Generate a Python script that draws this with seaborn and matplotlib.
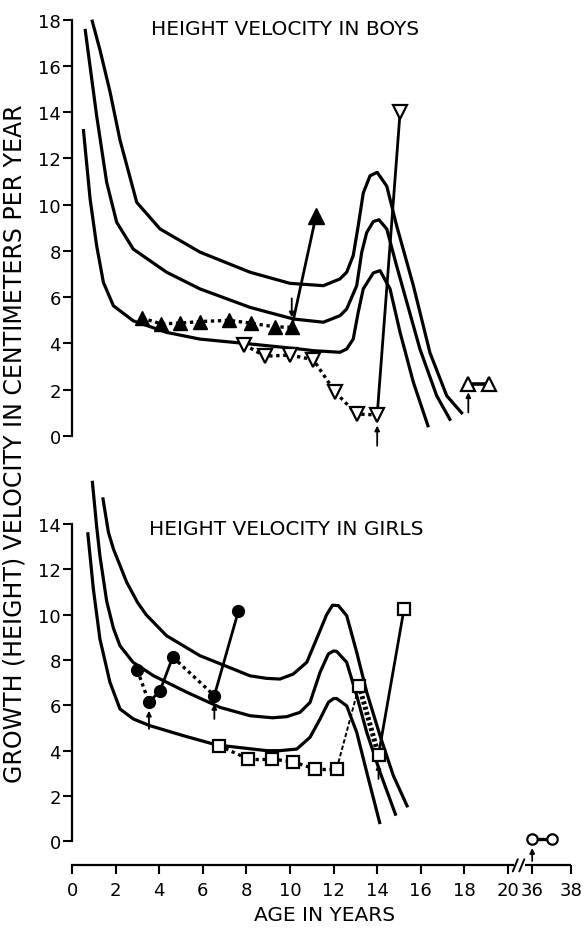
import numpy as np
import matplotlib
matplotlib.use("Agg")
import matplotlib.pyplot as plt
import seaborn as sns
from matplotlib.transforms import blended_transform_factory

sns.set_style("ticks")
plt.rcParams["font.family"] = ["DejaVu Sans"]
plt.rcParams["text.color"] = "black"
plt.rcParams["axes.edgecolor"] = "black"

# ---------------- Boys: reference percentile curves ----------------
boys_hi_age = [0.91, 1.28, 1.74, 2.2, 2.97, 4.04, 5.87, 8.17, 10.0, 11.53, 12.29, 12.6,
               12.9, 13.13, 13.36, 13.67, 14.0, 14.44, 14.89, 15.66, 16.42, 17.19, 17.92]
boys_hi_vel = [18.0, 16.7, 14.9, 12.8, 10.1, 8.95, 7.95, 7.08, 6.6, 6.5, 6.79, 7.08,
               7.8, 9.09, 10.5, 11.25, 11.4, 10.8, 9.1, 6.5, 3.6, 1.74, 0.95]
boys_mid_age = [0.6, 1.13, 1.59, 2.05, 2.81, 4.34, 5.87, 8.17, 10.15, 11.53, 12.29, 12.6,
                13.06, 13.29, 13.52, 13.82, 14.08, 14.44, 14.89, 15.96, 16.73, 17.37]
boys_mid_vel = [17.6, 13.85, 10.97, 9.24, 8.08, 7.08, 6.36, 5.56, 5.06, 4.92, 5.2, 5.49,
                6.5, 7.94, 8.8, 9.27, 9.35, 8.95, 7.36, 3.76, 1.74, 0.66]
boys_lo_age = [0.52, 0.83, 1.13, 1.44, 1.9, 2.81, 4.34, 5.87, 8.17, 10.46, 11.07, 12.29,
               12.6, 12.9, 13.13, 13.36, 13.82, 14.13, 14.59, 15.05, 15.66, 16.35]
boys_lo_vel = [13.27, 10.25, 8.23, 6.64, 5.63, 4.98, 4.48, 4.19, 3.98, 3.76, 3.69, 3.62,
               3.76, 4.19, 5.35, 6.36, 7.05, 7.15, 6.36, 4.48, 2.32, 0.38]

# ---------------- Boys: patient measurements ----------------
boy1_age = [3.2, 4.1, 4.96, 5.87, 7.22, 8.2, 9.3, 10.08]
boy1_vel = [5.1, 4.85, 4.88, 4.95, 5.0, 4.88, 4.72, 4.7]
boy1_treated_age = [10.08, 11.19]
boy1_treated_vel = [4.7, 9.5]

boy2_age = [7.9, 8.85, 10.0, 11.07, 12.07, 13.06, 14.0]
boy2_vel = [3.95, 3.45, 3.5, 3.3, 1.9, 0.95, 0.91]
boy2_treated_age = [14.0, 15.05]
boy2_treated_vel = [0.91, 14.0]

boy_adult_age = [18.18, 19.14]
boy_adult_vel = [2.25, 2.25]

# treatment start markers: (age, tail velocity, head velocity)
boys_arrows = [(10.08, 5.95, 5.13), (14.0, -0.42, 0.45), (18.18, 1.02, 1.89)]

# ---------------- Girls: reference percentile curves ----------------
girls_hi_age = [1.41, 1.67, 1.9, 2.51, 3.0, 3.4, 4.34, 5.87, 7.4, 8.17, 8.93, 9.54, 10.15,
                10.77, 11.22, 11.68, 11.95, 12.22, 12.6, 13.06, 13.52, 14.13, 14.74, 15.4]
girls_hi_vel = [15.18, 13.64, 12.9, 11.43, 10.55, 10.0, 9.07, 8.19, 7.6, 7.3, 7.19, 7.16, 7.38,
                7.9, 8.93, 10.0, 10.42, 10.4, 9.96, 8.34, 6.58, 4.66, 2.9, 1.5]
girls_mid_age = [0.93, 1.13, 1.28, 1.59, 1.9, 2.2, 2.8, 3.73, 5.26, 6.79, 8.17, 9.2, 9.85,
                 10.46, 10.92, 11.38, 11.76, 12.0, 12.14, 12.6, 13.06, 13.52, 14.13, 14.86]
girls_mid_vel = [15.91, 13.9, 12.6, 10.6, 9.4, 8.63, 7.9, 7.31, 6.58, 5.91, 5.54, 5.45, 5.5,
                 5.69, 6.13, 7.46, 8.27, 8.4, 8.38, 7.9, 6.43, 4.81, 3.05, 1.13]
girls_lo_age = [0.72, 0.98, 1.28, 1.74, 2.2, 2.81, 3.58, 5.11, 6.64, 8.93, 9.54, 10.31,
                10.92, 11.38, 11.76, 12.0, 12.14, 12.6, 13.06, 13.52, 14.13]
girls_lo_vel = [13.64, 11.13, 8.93, 7.02, 5.84, 5.4, 5.1, 4.66, 4.25, 4.0, 4.0, 4.07,
                4.59, 5.4, 6.13, 6.3, 6.3, 5.98, 4.81, 3.05, 0.76]

# ---------------- Girls: patient measurements ----------------
girl1_age = [3.0, 3.53, 4.04, 4.62, 6.53, 7.63]
girl1_vel = [7.55, 6.13, 6.65, 8.13, 6.43, 10.15]
girl1_styles = ["dotted", "solid", "solid", "dotted", "solid"]

girl2_age = [6.74, 8.09, 9.16, 10.12, 11.15, 12.14, 13.17, 14.06, 15.23]
girl2_vel = [4.22, 3.63, 3.63, 3.51, 3.19, 3.19, 6.87, 3.81, 10.25]
girl2_styles = ["dotted", "dotted", "dotted", "dotted", "dotted", "dashed", "heavy", "solid"]

girl_adult_age = [36, 37]
girl_adult_vel = [0.1, 0.1]

girls_arrows = [(3.53, 4.96, 5.76), (6.53, 5.4, 6.06), (14.06, 2.75, 3.41), (36, -0.87, -0.3)]

# ---------------- axis labels ----------------
xtick_ages = [0, 2, 4, 6, 8, 10, 12, 14, 16, 18, 20, 36, 38]
boys_yticks = list(range(0, 19, 2))
girls_yticks = list(range(0, 15, 2))

# broken age axis: ages past the break are squeezed in after 21 years
BREAK_FROM, BREAK_TO, BREAK_POS, BREAK_SCALE = 21.0, 36.0, 21.11, 0.89


def age_axis(a):
    a = np.asarray(a, dtype=float)
    return np.where(a <= BREAK_FROM, a, BREAK_POS + (a - BREAK_TO) * BREAK_SCALE)


CURVE_LW = 2.3
STYLES = {
    "solid": dict(linestyle="-", lw=2.0),
    "dotted": dict(linestyle=(0, (1.0, 1.1)), lw=2.4),
    "dashed": dict(linestyle=(0, (2.2, 1.2)), lw=1.4),
    "heavy": dict(linestyle=(0, (0.6, 0.5)), lw=3.6),
}

W, H = 585, 929
fig = plt.figure(figsize=(W / 100, H / 100), dpi=100)
ax_b = fig.add_axes([72 / W, 1 - 450.9 / H, 500.3 / W, (450.9 - 13.7) / H])
ax_g = fig.add_axes([72 / W, 1 - 866.3 / H, 500.3 / W, (866.3 - 475.2) / H])

for ax in (ax_b, ax_g):
    ax.set_xlim(0, 22.95)
    ax.spines["top"].set_visible(False)
    ax.spines["right"].set_visible(False)
    ax.spines["left"].set_linewidth(1.6)
    ax.spines["bottom"].set_linewidth(1.6)
    ax.tick_params(axis="both", labelsize=13, length=6.5, width=1.5, color="black",
                   labelcolor="black")
    ax.tick_params(axis="y", pad=1.5)
    ax.set_xlabel("")
    ax.set_ylabel("")


def curve(ax, ages, vels):
    sns.lineplot(x=age_axis(ages), y=vels, ax=ax, color="black", lw=CURVE_LW,
                 sort=False, estimator=None, solid_capstyle="butt", solid_joinstyle="round")


def arrow(ax, age, tail, head):
    x = float(age_axis(age))
    ax.annotate("", xy=(x, head), xytext=(x, tail),
                arrowprops=dict(arrowstyle="-|>", color="black", lw=1.3,
                                mutation_scale=7, shrinkA=0, shrinkB=0),
                annotation_clip=False)


# ---------- boys panel ----------
for a, v in [(boys_hi_age, boys_hi_vel), (boys_mid_age, boys_mid_vel), (boys_lo_age, boys_lo_vel)]:
    curve(ax_b, a, v)

ax_b.plot(boy1_age, boy1_vel, color="black", **STYLES["dotted"], zorder=3)
ax_b.plot(boy1_treated_age, boy1_treated_vel, color="black", **STYLES["solid"], zorder=3)
ax_b.plot(boy1_age, boy1_vel, "^", color="black", ms=10, zorder=4)
ax_b.plot(boy1_treated_age[-1:], boy1_treated_vel[-1:], "^", color="black", ms=11, zorder=4)

ax_b.plot(boy2_age, boy2_vel, color="black", **STYLES["dotted"], zorder=3)
ax_b.plot(boy2_treated_age, boy2_treated_vel, color="black", **STYLES["solid"], zorder=3)
ax_b.plot(boy2_age + boy2_treated_age[-1:], boy2_vel + boy2_treated_vel[-1:], "v",
          mfc="white", mec="black", mew=1.6, ms=10, ls="none", zorder=4)

ax_b.plot(boy_adult_age, boy_adult_vel, color="black", lw=2.6, zorder=3)
ax_b.plot(boy_adult_age, boy_adult_vel, "^", mfc="white", mec="black", mew=1.6, ms=10,
          ls="none", zorder=4)

for a, t, h in boys_arrows:
    arrow(ax_b, a, t, h)

ax_b.set_ylim(-0.6, 18.3)
ax_b.spines["left"].set_bounds(0, 18)
ax_b.spines["bottom"].set_visible(False)
ax_b.set_yticks(boys_yticks)
ax_b.set_xticks([])

# ---------- girls panel ----------
for a, v in [(girls_hi_age, girls_hi_vel), (girls_mid_age, girls_mid_vel), (girls_lo_age, girls_lo_vel)]:
    curve(ax_g, a, v)

for i, st in enumerate(girl1_styles):
    ax_g.plot(girl1_age[i:i + 2], girl1_vel[i:i + 2], color="black", **STYLES[st], zorder=3)
ax_g.plot(girl1_age, girl1_vel, "o", color="black", ms=8.5, ls="none", zorder=4)

for i, st in enumerate(girl2_styles):
    ax_g.plot(girl2_age[i:i + 2], girl2_vel[i:i + 2], color="black", **STYLES[st], zorder=3)
ax_g.plot(girl2_age, girl2_vel, "s", mfc="white", mec="black", mew=1.6, ms=9,
          ls="none", zorder=4)

ax_g.plot(age_axis(girl_adult_age), girl_adult_vel, color="black", lw=2.4, zorder=3,
          clip_on=False)
ax_g.plot(age_axis(girl_adult_age), girl_adult_vel, "o", mfc="white", mec="black", mew=1.6,
          ms=7.5, ls="none", zorder=4, clip_on=False)

for a, t, h in girls_arrows:
    arrow(ax_g, a, t, h)

ax_g.set_ylim(-1.06, 16.2)
ax_g.spines["left"].set_bounds(0, 14)
ax_g.set_yticks(girls_yticks)
ax_g.set_xticks(age_axis(xtick_ages))
ax_g.set_xticklabels([str(a) for a in xtick_ages])
ax_g.tick_params(axis="x", pad=4.8)

# broken age axis: first stretch up to the break, then a short stretch for adults
ax_g.spines["bottom"].set_bounds(0, 20.24)
trans = blended_transform_factory(ax_g.transData, ax_g.transAxes)
ax_g.plot([20.78, float(age_axis(38))], [0, 0], color="black", lw=1.6, transform=trans,
          clip_on=False, solid_capstyle="butt")
y0 = -1.06
for xs in (20.22, 20.52):
    ax_g.plot([xs, xs + 0.23], [y0 - 0.27, y0 + 0.27], color="black", lw=1.4, clip_on=False)

# ---------- text ----------
fig.text(285 / W, 1 - 35 / H, "HEIGHT VELOCITY IN BOYS", ha="center", va="baseline",
         fontsize=14.5, color="black")
fig.text(286 / W, 1 - 535 / H, "HEIGHT VELOCITY IN GIRLS", ha="center", va="baseline",
         fontsize=14.5, color="black")
fig.text(325 / W, 1 - 921 / H, "AGE IN YEARS", ha="center", va="baseline", fontsize=14.5,
         color="black")
fig.text(15 / W, 1 - 444 / H, "GROWTH (HEIGHT) VELOCITY IN CENTIMETERS PER YEAR",
         ha="center", va="center", rotation=90, fontsize=17, color="black")

fig.savefig("out.png", dpi=100, facecolor="white")
